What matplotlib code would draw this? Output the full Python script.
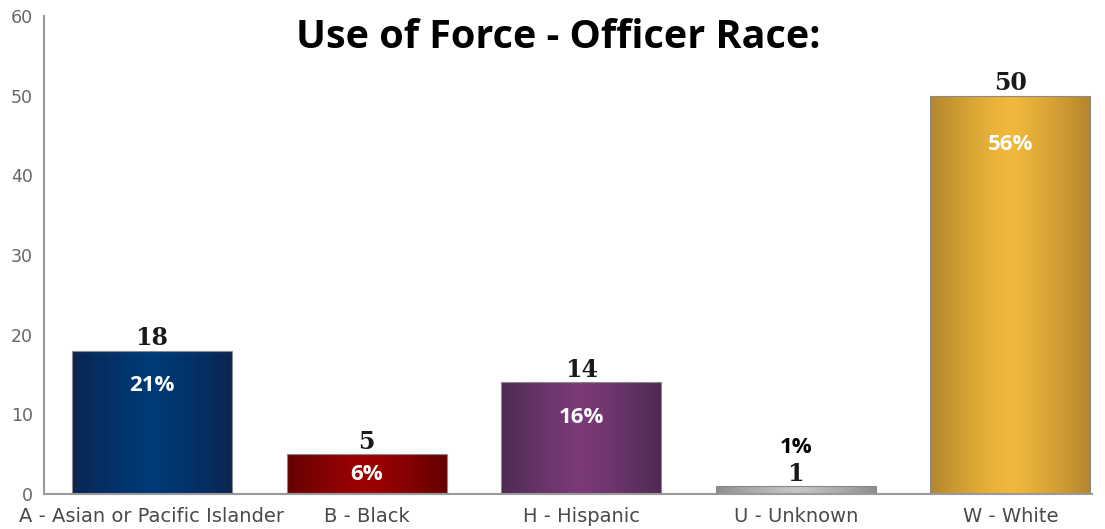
import numpy as np
import matplotlib.pyplot as plt
from matplotlib.colors import LinearSegmentedColormap

categorias = ["A - Asian or Pacific Islander", "B - Black", "H - Hispanic", "U - Unknown", "W - White"]
conteos = [18, 5, 14, 1, 50]
porcentajes = ["21%", "6%", "16%", "1%", "56%"]
y_ticks = [0, 10, 20, 30, 40, 50, 60]

# colores de borde y centro para el degradado de cada barra
borde = ["#0b2550", "#650000", "#4d2a52", "#8c8c8c", "#b4862c"]
centro = ["#003a78", "#9c0202", "#7a3a78", "#c4c4c4", "#f1b83c"]

fig = plt.figure(figsize=(11.05, 5.29), dpi=100)
ax = fig.add_axes([44/1105, 35/529, (1092-44)/1105, (494-16)/529])

x = np.arange(len(categorias))
ancho = 0.745
barras = ax.bar(x, conteos, width=ancho, color="none", edgecolor="#8a8a8a", linewidth=0.8, zorder=3)

perfil = np.abs(np.linspace(-1, 1, 256)) ** 1.3
perfil = 1 - perfil
for b, c1, c2 in zip(barras, borde, centro):
    cmap = LinearSegmentedColormap.from_list("g", [c1, c2])
    x0, y0 = b.get_x(), b.get_y()
    w, h = b.get_width(), b.get_height()
    im = ax.imshow(perfil[np.newaxis, :], cmap=cmap, aspect="auto", vmin=0, vmax=1,
                   extent=[x0, x0 + w, y0, y0 + h], zorder=2, interpolation="bilinear")
    im.set_clip_path(b)

ax.set_xlim(-0.503, 4.38)
ax.set_ylim(0, 60)
ax.set_yticks(y_ticks)
ax.set_xticks(x)
ax.set_xticklabels(categorias)
ax.tick_params(axis="y", length=0, pad=8, labelsize=12.5, labelcolor="#666666")
ax.tick_params(axis="x", length=0, pad=9, labelsize=14, labelcolor="#4a4a4a")
for s in ["top", "right"]:
    ax.spines[s].set_visible(False)
for s in ["left", "bottom"]:
    ax.spines[s].set_color("#9a9a9a")
    ax.spines[s].set_linewidth(1.5)

for i, (v, p) in enumerate(zip(conteos, porcentajes)):
    ax.annotate(str(v), (x[i], v), xytext=(0, 9), textcoords="offset points",
                ha="center", va="center", fontsize=17, fontweight="bold",
                family="DejaVu Serif", color="#1a1a1a", zorder=5)
    if v >= 3:
        off = -min(35 if v > 40 else 25, v * 7.97 / 1.389 / 2)
        ax.annotate(p, (x[i], v), xytext=(0, off), textcoords="offset points",
                    ha="center", va="center", fontsize=16, fontweight="bold",
                    family="Open Sans", color="white", zorder=5)
    else:
        ax.annotate(p, (x[i], v), xytext=(0, 28), textcoords="offset points",
                    ha="center", va="center", fontsize=16, fontweight="bold",
                    family="Open Sans", color="black", zorder=5)

fig.text(0.505, 0.93, "Use of Force - Officer Race:", ha="center", va="center",
         fontsize=28.5, fontweight="bold", family="Open Sans", color="black")

fig.savefig("out.png", dpi=100)
